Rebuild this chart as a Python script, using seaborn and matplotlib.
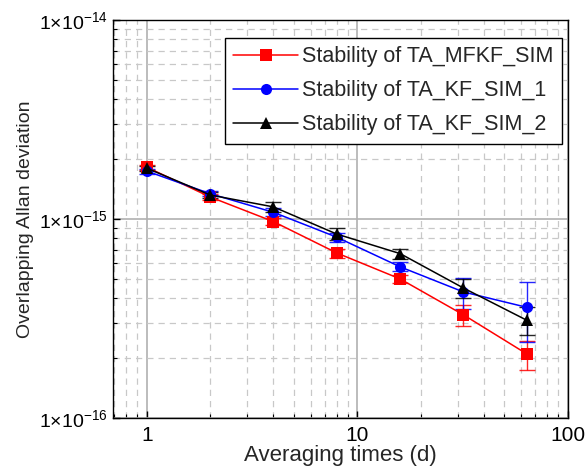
import numpy as np
import pandas as pd
import matplotlib
matplotlib.use("Agg")
import matplotlib.pyplot as plt
import seaborn as sns
from matplotlib.ticker import FixedLocator, LogLocator, NullFormatter

# averaging times (days)
tau = [1, 2, 4, 8, 16, 32, 64]

# overlapping Allan deviation (x1e-15)
mfkf = [1.82, 1.29, 0.97, 0.675, 0.50, 0.33, 0.21]
kf1 = [1.74, 1.34, 1.08, 0.81, 0.575, 0.43, 0.36]
kf2 = [1.80, 1.32, 1.15, 0.84, 0.67, 0.45, 0.31]

# error bar half widths (x1e-15)
mfkf_err = [0.05, 0.04, 0.04, 0.035, 0.025, 0.04, 0.035]
kf1_err = [0.05, 0.04, 0.05, 0.04, 0.03, 0.075, 0.12]
kf2_err = [0.05, 0.04, 0.07, 0.06, 0.04, 0.05, 0.05]

labels = ["Stability of TA_MFKF_SIM", "Stability of TA_KF_SIM_1", "Stability of TA_KF_SIM_2"]
colors = ["#ff0000", "#0000ff", "#000000"]
markers = ["s", "o", "^"]

sns.set_style("white")
plt.rcParams["font.family"] = ["Liberation Sans", "DejaVu Sans"]
plt.rcParams["mathtext.fontset"] = "custom"
plt.rcParams["mathtext.rm"] = "Liberation Sans"
plt.rcParams["mathtext.it"] = "Liberation Sans"

rows = []
for lab, vals in zip(labels, [mfkf, kf1, kf2]):
    for t, v in zip(tau, vals):
        rows.append({"tau": t, "adev": v * 1e-15, "series": lab})
df = pd.DataFrame(rows)

fig = plt.figure(figsize=(5.85, 4.74), dpi=100)
ax = fig.add_axes([0.193, 0.118, 0.778, 0.840])

for lab, vals, errs, c in zip(labels, [mfkf, kf1, kf2], [mfkf_err, kf1_err, kf2_err], colors):
    ax.errorbar(tau, np.array(vals) * 1e-15, yerr=np.array(errs) * 1e-15, fmt="none",
                ecolor=c, elinewidth=1.0, capsize=6, capthick=1.0, alpha=0.85, zorder=3)

sns.lineplot(data=df, x="tau", y="adev", hue="series", style="series",
             palette=colors, markers=markers, dashes=False, markersize=8,
             markeredgewidth=0, linewidth=1.1, ax=ax, zorder=4)

ax.set_xscale("log")
ax.set_yscale("log")
ax.set_xlim(0.69, 100.5)
ax.set_ylim(1e-16, 1e-14)

ax.xaxis.set_major_locator(FixedLocator([1, 10, 100]))
ax.set_xticklabels(["1", "10", "100"])
ax.xaxis.set_minor_locator(LogLocator(base=10, subs=np.arange(2, 10)))
ax.xaxis.set_minor_formatter(NullFormatter())
ax.yaxis.set_major_locator(FixedLocator([1e-16, 1e-15, 1e-14]))
ax.set_yticklabels([r"$1{\times}10^{-16}$", r"$1{\times}10^{-15}$", r"$1{\times}10^{-14}$"])
ax.yaxis.set_minor_locator(LogLocator(base=10, subs=np.arange(2, 10)))
ax.yaxis.set_minor_formatter(NullFormatter())

ax.grid(True, which="major", color="#b0b0b0", linewidth=1.2, linestyle="-")
ax.grid(True, which="minor", color="#c8c8c8", linewidth=0.9, linestyle=(0, (5, 4)))
ax.set_axisbelow(True)

ax.tick_params(which="both", direction="in", left=True, bottom=True, colors="black")
ax.tick_params(axis="y", labelsize=14)
ax.tick_params(axis="x", labelsize=15, pad=6)
ax.tick_params(which="major", length=5, width=1)
ax.tick_params(which="minor", length=3, width=0.8)
for s in ax.spines.values():
    s.set_color("black")
    s.set_linewidth(1.0)

ax.set_xlabel("Averaging times (d)", fontsize=16, labelpad=0)
ax.set_ylabel("Overlapping Allan deviation", fontsize=14)

handles, lbls = ax.get_legend_handles_labels()
leg = ax.legend(handles, lbls, loc="upper right", bbox_to_anchor=(0.987, 0.955),
                fontsize=15.5, frameon=True, fancybox=False, edgecolor="black",
                framealpha=1, borderpad=0.4, labelspacing=0.6, handlelength=3.0,
                handletextpad=0.2, borderaxespad=0)
leg.get_frame().set_linewidth(1.0)

fig.savefig("out.png", dpi=100)
